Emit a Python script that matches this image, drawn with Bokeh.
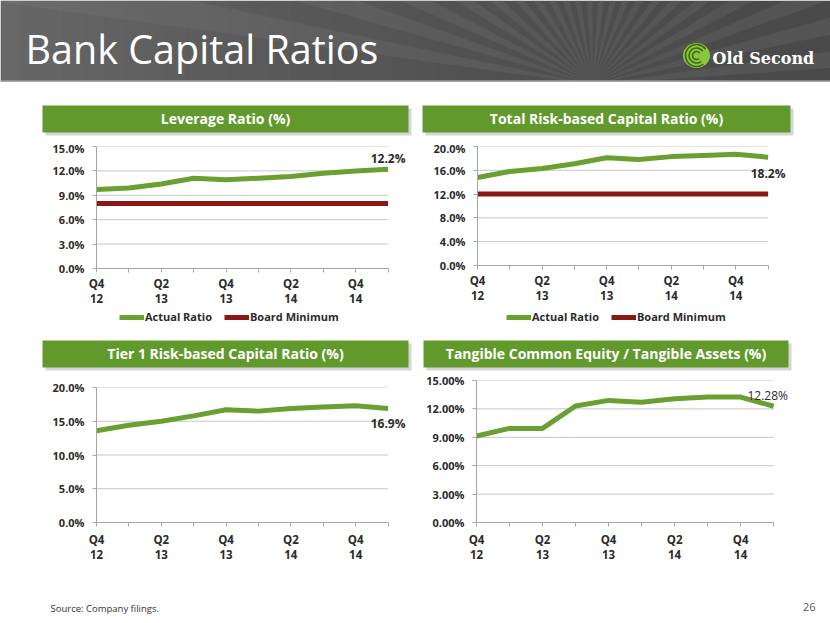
import numpy as np
from bokeh.plotting import figure
from bokeh.layouts import column, row
from bokeh.models import Range1d, FixedTicker, PrintfTickFormatter, Legend, LegendItem, Label, Spacer
from bokeh.embed import file_html
from bokeh.resources import INLINE
from bokeh.core.properties import value

# ---------------- data ----------------
quarters = ["Q4 12", "Q1 13", "Q2 13", "Q3 13", "Q4 13", "Q1 14", "Q2 14", "Q3 14", "Q4 14", "Q1 15"]
x_tick_labels = ["Q4\n12", "", "Q2\n13", "", "Q4\n13", "", "Q2\n14", "", "Q4\n14", ""]

leverage = [9.7, 9.9, 10.4, 11.1, 10.9, 11.1, 11.3, 11.7, 12.0, 12.2]
leverage_board_min = [8.0, 8.0, 8.0, 8.0, 8.0, 8.0, 8.0, 8.0, 8.0, 8.0]
leverage_yticks = [0, 3, 6, 9, 12, 15]

total_rbc = [14.8, 15.8, 16.3, 17.1, 18.1, 17.8, 18.3, 18.5, 18.7, 18.2]
total_rbc_board_min = [12.0, 12.0, 12.0, 12.0, 12.0, 12.0, 12.0, 12.0, 12.0, 12.0]
total_rbc_yticks = [0, 4, 8, 12, 16, 20]

tier1_rbc = [13.6, 14.4, 15.0, 15.8, 16.7, 16.5, 16.9, 17.1, 17.3, 16.9]
tier1_yticks = [0, 5, 10, 15, 20]

tce_ta = [9.14, 9.94, 9.94, 12.31, 12.90, 12.70, 13.08, 13.25, 13.25, 12.28]
tce_yticks = [0, 3, 6, 9, 12, 15]

panel_titles = ["Leverage Ratio (%)", "Total Risk-based Capital Ratio (%)",
                "Tier 1 Risk-based Capital Ratio (%)", "Tangible Common Equity / Tangible Assets (%)"]
legend_labels = ["Actual Ratio", "Board Minimum"]

# ---------------- style ----------------
GREEN_LINE = "#6a9f31"
GREEN_BAR = "#62992d"
RED = "#8b1717"
FONT_NAME = "Open Sans"
FONT = value(FONT_NAME)
TXT = "#2b2b2b"
AX = "#a6a6a6"
W = 830

x_idx = list(range(len(quarters)))
X_END = x_idx[-1] + 0.6   # a little room right of the last quarter for the value label


def deco_fig(height, y_top, y_bottom, width=W):
    p = figure(width=width, height=height, x_range=Range1d(0, width), y_range=Range1d(y_bottom, y_top),
               output_backend="svg", toolbar_location=None, min_border=0,
               x_axis_location=None, y_axis_location=None)
    p.grid.visible = False
    p.outline_line_color = None
    p.background_fill_color = "white"
    p.border_fill_color = "white"
    return p


def green_bar(p, l, r, t, b, text):
    p.quad(left=[l + 3], right=[r + 3], top=[t + 3], bottom=[b + 3], fill_color="#b5b5b5",
           fill_alpha=0.55, line_color=None)
    p.quad(left=[l], right=[r], top=[t], bottom=[b], fill_color=GREEN_BAR, line_color=None)
    p.text(x=[(l + r) / 2], y=[(t + b) / 2 - 1], text=[text], text_align="center", text_baseline="middle",
           text_color="white", text_font=FONT, text_font_style="bold", text_font_size="14px")


def chart(width, mb, ymax, yticks, fmt, values, board=None, lab=None, xstandoff=5):
    p = figure(width=width, height=mb[4], x_range=Range1d(0, X_END), y_range=Range1d(0, ymax),
               output_backend="svg", toolbar_location=None,
               min_border_left=mb[0], min_border_right=mb[1], min_border_top=mb[2], min_border_bottom=mb[3])
    p.outline_line_color = None
    p.background_fill_color = "white"
    p.border_fill_color = "white"
    p.grid.visible = False
    # horizontal gridlines spanning first to last quarter
    p.segment(x0=[x_idx[0]] * len(yticks), x1=[x_idx[-1]] * len(yticks), y0=yticks, y1=yticks,
              line_color="#c6c6c6", line_width=1)
    p.yaxis.ticker = FixedTicker(ticks=yticks)
    p.yaxis.formatter = PrintfTickFormatter(format=fmt)
    p.xaxis.ticker = FixedTicker(ticks=x_idx)
    p.xaxis.bounds = (x_idx[0], x_idx[-1])
    p.xaxis.major_label_overrides = {i: s for i, s in zip(x_idx, x_tick_labels)}
    for ax in (p.xaxis[0], p.yaxis[0]):
        ax.axis_line_color = AX
        ax.major_tick_line_color = AX
        ax.major_tick_out = 4
        ax.major_tick_in = 0
        ax.minor_tick_line_color = None
        ax.major_label_text_font = FONT_NAME
        ax.major_label_text_font_style = "bold"
        ax.major_label_text_color = TXT
    p.yaxis.major_label_text_font_size = "11px"
    p.yaxis.major_label_standoff = 8
    p.xaxis.major_label_text_font_size = "11.5px"
    p.xaxis.major_label_text_line_height = 1.05
    p.xaxis.major_label_standoff = xstandoff

    p.line(x_idx, values, line_width=5, line_color=GREEN_LINE, line_join="round")
    if board is not None:
        p.line(x_idx, board, line_width=5, line_color=RED)
    if lab is not None:
        txt, xo, yo, style = lab
        p.add_layout(Label(x=x_idx[-1], y=values[-1], text=txt, x_offset=xo, y_offset=yo,
                           text_align="center", text_baseline="middle", text_font=FONT_NAME,
                           text_font_style=style, text_font_size="12px", text_color=TXT))
    return p


def legend_fig(width, height, loc):
    p = figure(width=width, height=height, x_range=Range1d(0, 1), y_range=Range1d(0, 1),
               output_backend="svg", toolbar_location=None, min_border=0,
               x_axis_location=None, y_axis_location=None)
    p.grid.visible = False
    p.outline_line_color = None
    p.background_fill_color = "white"
    p.border_fill_color = "white"
    # legend-only renderers: their points lie outside the visible range
    r_act = p.line(x=[5, 6], y=[5, 5], line_width=5, line_color=GREEN_LINE)
    r_min = p.line(x=[5, 6], y=[6, 6], line_width=5, line_color=RED)
    leg = Legend(items=[LegendItem(label=legend_labels[0], renderers=[r_act]),
                        LegendItem(label=legend_labels[1], renderers=[r_min])],
                 location=loc, orientation="horizontal")
    leg.border_line_color = None
    leg.background_fill_alpha = 0
    leg.padding = 0
    leg.margin = 0
    leg.spacing = 12
    leg.glyph_width = 25
    leg.glyph_height = 14
    leg.label_height = 14
    leg.label_standoff = 1
    leg.label_text_font = FONT_NAME
    leg.label_text_font_style = "bold"
    leg.label_text_font_size = "11px"
    leg.label_text_color = TXT
    p.add_layout(leg)
    return p


# ---------------- header ----------------
h = deco_fig(140, 0, 140)
h.quad(left=[0], right=[W], top=[0], bottom=[81], fill_color="#4a4a4a", line_color=None)
gx = np.linspace(0, W, 41)
h.quad(left=gx[:-1], right=gx[1:], top=0, bottom=81, fill_color="white",
       fill_alpha=[0.16 * (1 - i / 40) ** 1.6 for i in range(40)], line_color=None)
cx, cy, R = 592, 84, 1400
ang = np.linspace(np.radians(4), np.radians(176), 45)
rx, ry = [], []
for i in range(0, 44, 2):
    rx.append([cx, cx + R * np.cos(ang[i]), cx + R * np.cos(ang[i + 1])])
    ry.append([cy, cy - R * np.sin(ang[i]), cy - R * np.sin(ang[i + 1])])
h.patches(rx, ry, fill_color="#8a8a8a", fill_alpha=0.16, line_color=None)
h.quad(left=[0], right=[W], top=[81], bottom=[140], fill_color="white", line_color=None)
h.segment(x0=[0], y0=[80.5], x1=[W], y1=[80.5], line_color="#9a9a9a", line_width=1.5)
h.text(x=[25], y=[48.5], text=["Bank Capital Ratios"], text_font=FONT, text_font_size="39.5px",
       text_color="white", text_baseline="middle", text_align="left")
# logo
h.ellipse(x=[696], y=[55], width=[27], height=[25], fill_color="#8cc63f", line_color=None)
h.arc(x=[696, 696, 696], y=[55, 55, 55], radius=[4, 7.5, 11], start_angle=0.6, end_angle=5.4,
      line_color="#3f6a1c", line_width=1.6)
h.text(x=[712], y=[58], text=["Old Second"], text_font=value("DejaVu Serif"), text_font_style="bold",
       text_font_size="16px", text_color="white", text_baseline="middle")
green_bar(h, 42, 408, 105, 132, panel_titles[0])
green_bar(h, 422, 790, 105, 132, panel_titles[1])

# ---------------- charts row 1 (y 140..309) ----------------
lev = chart(415, (96, 8, 6, 40, 169), 15, leverage_yticks, "%.1f%%", leverage, leverage_board_min,
            (f"{leverage[-1]:.1f}%", 0, 11, "bold"), xstandoff=3)
tot = chart(415, (62, 43, 6, 40, 166), 20, total_rbc_yticks, "%.1f%%", total_rbc, total_rbc_board_min,
            (f"{total_rbc[-1]:.1f}%", 0, -16, "bold"), xstandoff=3)
row1 = row(lev, column(tot, Spacer(width=415, height=3)))

# ---------------- legends (y 309..335) ----------------
legrow = row(legend_fig(415, 26, (119, 11)), legend_fig(415, 26, (91, 11)))

# ---------------- band 2 (y 335..372) ----------------
b2 = deco_fig(37, 335, 372)
green_bar(b2, 42, 408, 340, 367, panel_titles[2])
green_bar(b2, 423, 788, 340, 367, panel_titles[3])

# ---------------- charts row 2 (y 372..565) ----------------
t1 = chart(415, (96, 8, 8, 43, 186), 20, tier1_yticks, "%.1f%%", tier1_rbc, None,
           (f"{tier1_rbc[-1]:.1f}%", 0, -15, "bold"))
tce = chart(415, (61, 37, 8, 42, 193), 15, tce_yticks, "%.2f%%", tce_ta, None,
            (f"{tce_ta[-1]:.2f}%", -6, 11, "normal"))
row2 = row(column(Spacer(width=415, height=7), t1), tce)

# ---------------- footer (y 565..623) ----------------
f = deco_fig(58, 565, 623)
f.text(x=[50], y=[608], text=["Source: Company filings."], text_font=FONT, text_font_size="9.5px",
       text_color="#333333", text_baseline="middle")
f.text(x=[815], y=[606], text=["26"], text_font=FONT, text_font_size="11px",
       text_color="#555555", text_baseline="middle", text_align="right")

layout = column(h, row1, legrow, b2, row2, f)

with open("out.html", "w") as fh:
    fh.write(file_html(layout, INLINE))
